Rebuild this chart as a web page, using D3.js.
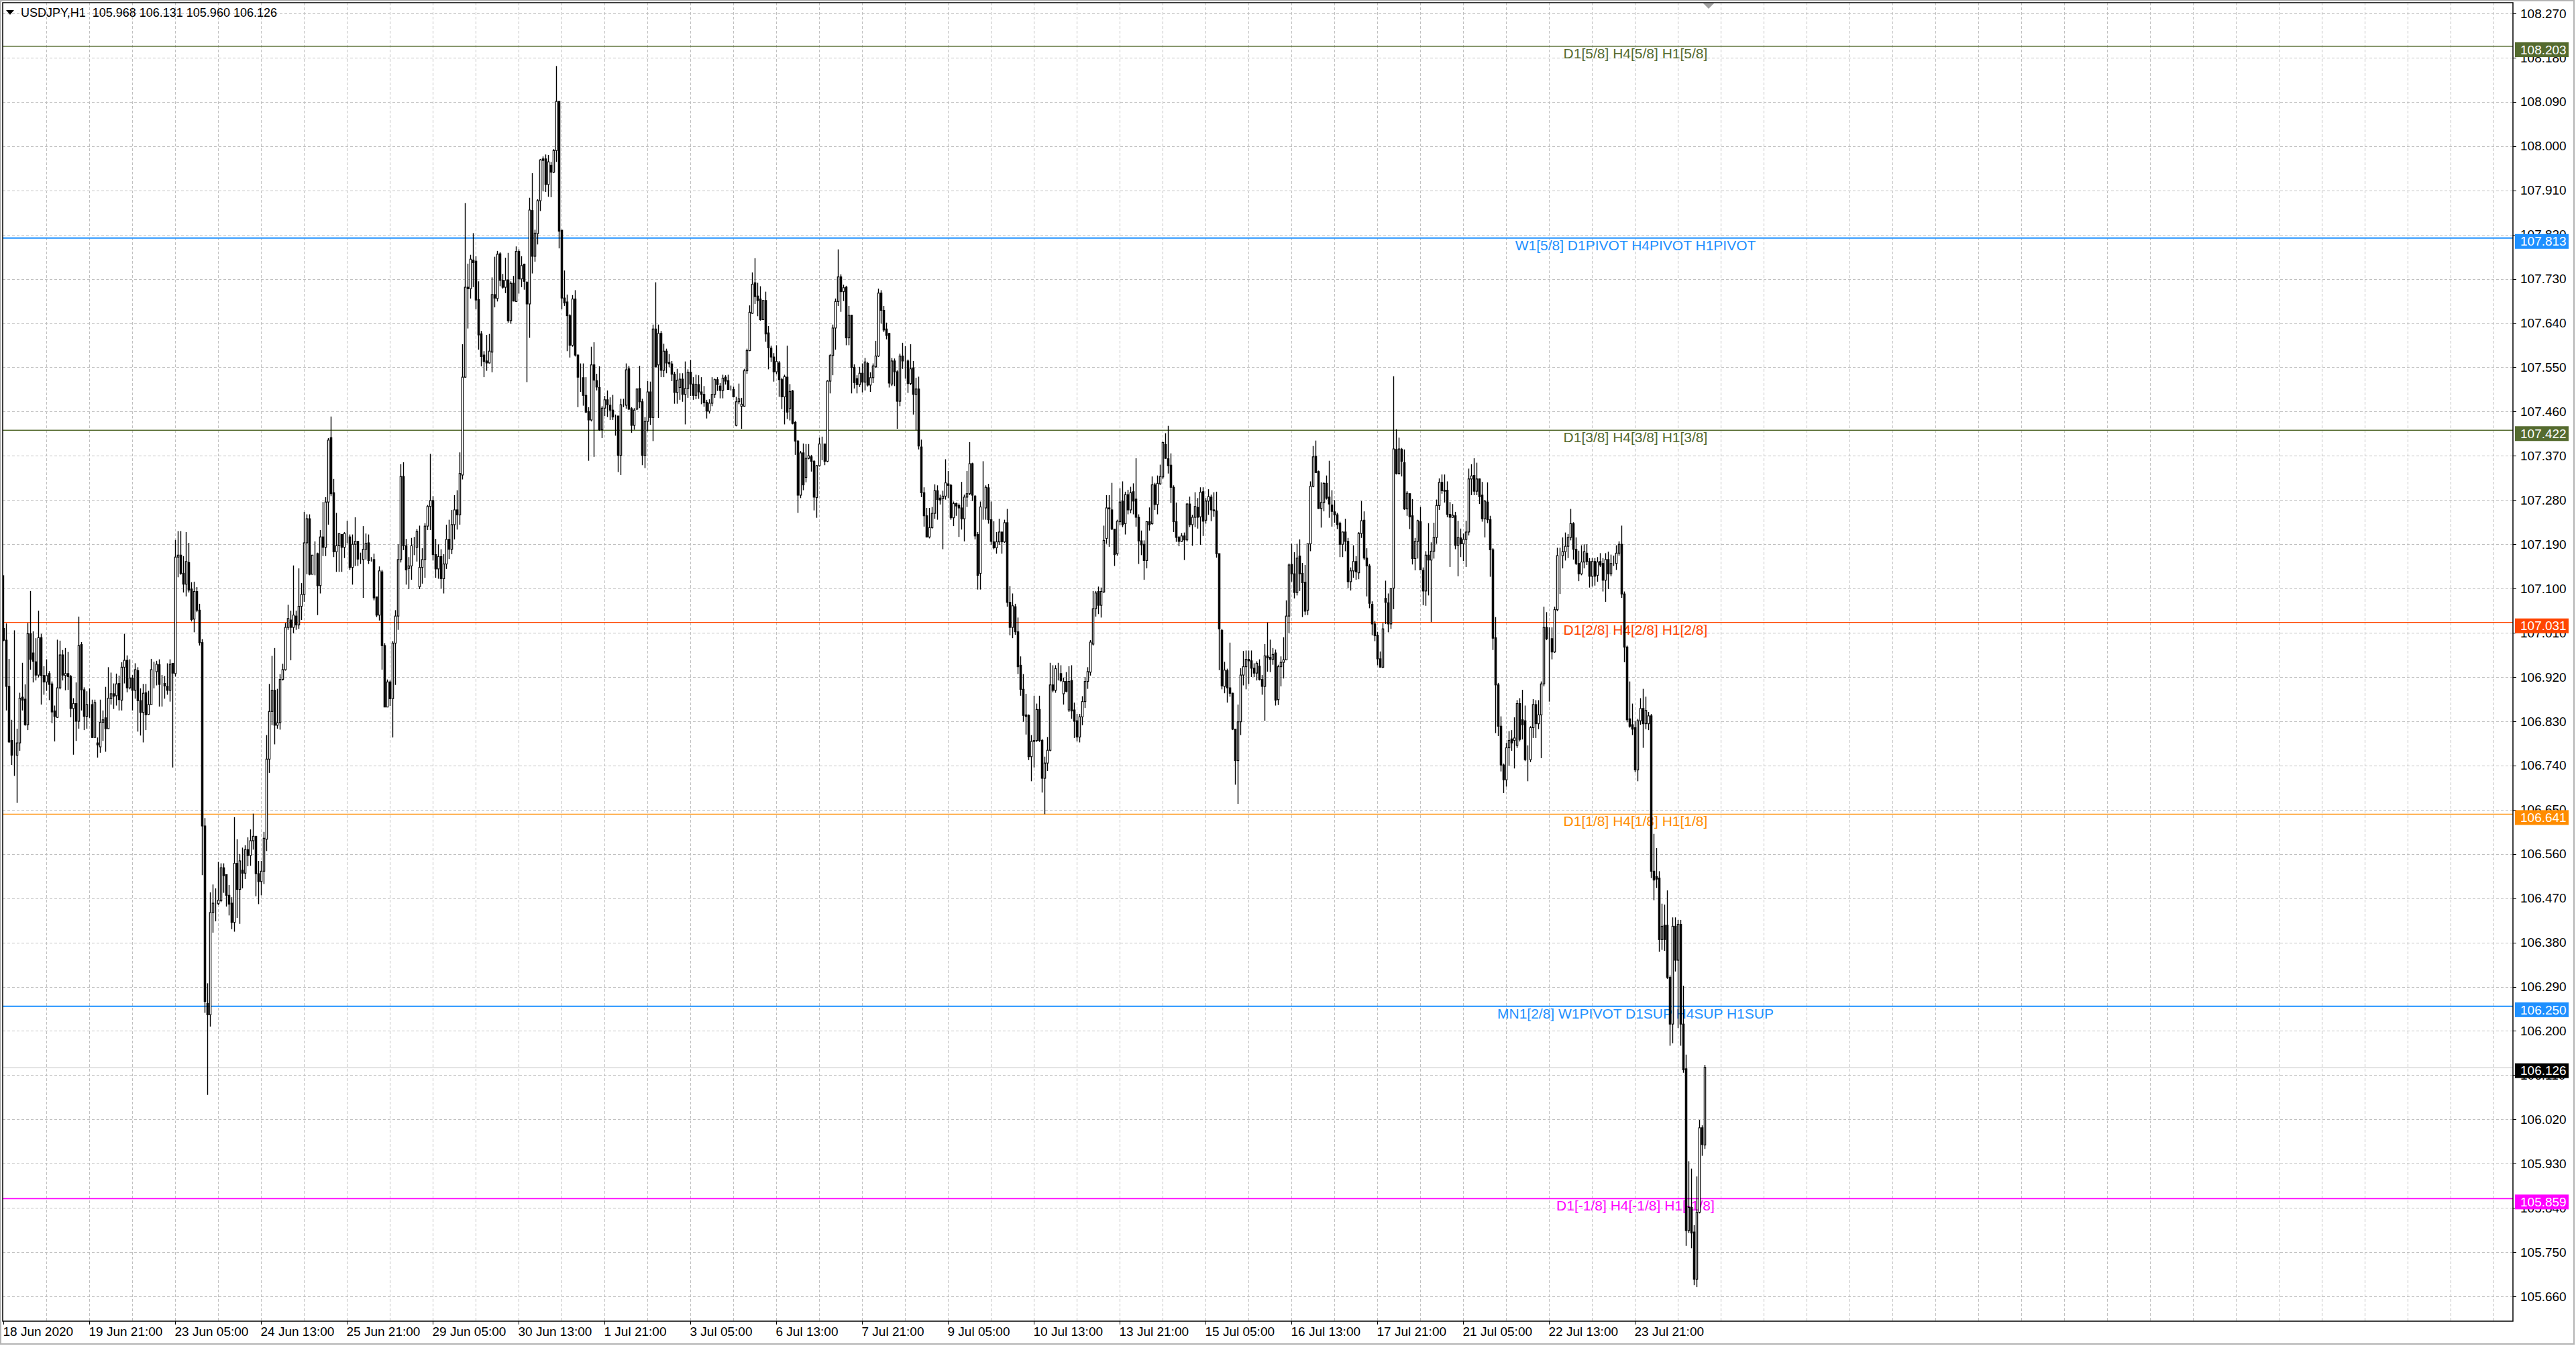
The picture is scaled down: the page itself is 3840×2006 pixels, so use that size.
<!DOCTYPE html>
<html>
<head>
<meta charset="utf-8">
<title>USDJPY,H1</title>
<script src="https://cdn.jsdelivr.net/npm/d3@7"></script>
<style>
  html, body { margin: 0; padding: 0; background: #fff; }
  svg { display: block; }
</style>
</head>
<body>
<svg id="chart"></svg>
<script>
// USDJPY H1 candles with Murrey-style level lines, MT4 look

// ── Data ──
const symbol = "USDJPY,H1";

const opens = [
  107.019,106.995,106.901,106.791,106.761,106.761,106.786,106.879,106.875,106.823,
  107.008,106.969,106.951,106.924,107.000,106.923,106.910,106.927,106.906,106.851,
  106.838,106.898,106.965,106.923,106.927,106.921,106.856,106.866,106.830,106.986,
  106.894,106.840,106.866,106.864,106.797,106.786,106.778,106.828,106.837,106.815,
  106.876,106.886,106.882,106.907,106.873,106.940,106.954,106.898,106.918,106.893,
  106.933,106.872,106.848,106.888,106.844,106.864,106.935,106.931,106.945,106.906,
  106.907,106.901,106.893,106.948,106.927,107.164,107.168,107.131,107.109,107.153,
  107.099,107.038,107.094,107.056,106.990,106.617,106.256,106.233,106.441,106.459,
  106.459,106.465,106.532,106.518,106.476,106.460,106.421,106.541,106.488,106.527,
  106.521,106.569,106.557,106.587,106.596,106.520,106.504,106.525,106.590,106.753,
  106.850,106.893,106.822,106.827,106.915,106.935,107.021,107.036,107.021,107.044,
  107.026,107.064,107.088,107.193,107.242,107.129,107.170,107.171,107.106,107.205,
  107.184,107.276,107.407,107.295,107.175,107.187,107.210,107.184,107.210,107.205,
  107.143,107.190,107.196,107.159,107.159,107.180,107.193,107.159,107.159,107.083,
  107.046,107.134,106.984,106.859,106.910,106.876,106.989,107.044,107.159,107.328,
  107.187,107.141,107.146,107.184,107.184,107.104,107.143,107.159,107.227,107.267,
  107.279,107.169,107.140,107.165,107.120,107.150,107.200,107.180,107.230,107.260,
  107.250,107.331,107.530,107.713,107.710,107.768,107.766,107.688,107.618,107.575,
  107.563,107.559,107.581,107.698,107.690,107.781,107.727,107.713,107.728,107.645,
  107.721,107.684,107.786,107.730,107.760,107.723,107.679,107.869,107.776,107.822,
  107.889,107.974,107.974,107.922,107.961,107.947,107.991,108.091,107.829,107.691,
  107.683,107.655,107.595,107.689,107.575,107.529,107.529,107.493,107.460,107.443,
  107.555,107.523,107.509,107.423,107.467,107.484,107.473,107.463,107.451,107.451,
  107.371,107.473,107.473,107.547,107.466,107.432,107.465,107.507,107.480,107.371,
  107.440,107.500,107.448,107.628,107.555,107.619,107.544,107.583,107.560,107.557,
  107.536,107.499,107.509,107.526,107.495,107.507,107.540,107.516,107.493,107.515,
  107.500,107.495,107.479,107.461,107.477,107.495,107.525,107.512,107.503,107.530,
  107.523,107.506,107.505,107.432,107.480,107.471,107.471,107.543,107.584,107.660,
  107.722,107.695,107.689,107.647,107.686,107.620,107.589,107.571,107.541,107.559,
  107.525,107.490,107.530,107.466,107.502,107.438,107.400,107.290,107.376,107.326,
  107.365,107.368,107.359,107.285,107.350,107.394,107.394,107.359,107.522,107.574,
  107.630,107.684,107.734,107.704,107.713,107.610,107.656,107.550,107.527,107.515,
  107.538,107.520,107.558,107.514,107.529,107.551,107.573,107.701,107.666,107.628,
  107.619,107.516,107.563,107.541,107.481,107.573,107.563,107.563,107.517,107.549,
  107.495,107.506,107.388,107.295,107.248,107.205,107.224,107.253,107.299,107.284,
  107.283,107.288,107.313,107.310,107.244,107.273,107.269,107.264,107.242,107.286,
  107.293,107.354,107.288,107.210,107.131,107.266,107.264,107.305,107.240,107.195,
  107.183,107.195,107.215,107.195,107.234,107.072,107.021,107.063,107.012,106.944,
  106.895,106.843,106.842,106.758,106.791,106.791,106.854,106.791,106.714,106.745,
  106.771,106.904,106.893,106.937,106.927,106.886,106.911,106.853,106.913,106.853,
  106.831,106.798,106.839,106.870,106.911,106.930,106.987,107.059,107.094,107.066,
  107.093,107.202,107.264,107.260,107.221,107.171,107.236,107.278,107.232,107.291,
  107.260,107.297,107.282,107.245,107.197,107.190,107.157,107.236,107.232,107.311,
  107.271,107.313,107.327,107.393,107.364,107.351,107.306,107.236,107.204,107.196,
  107.207,107.199,107.272,107.230,107.245,107.265,107.246,107.297,107.239,107.278,
  107.286,107.260,107.258,107.171,107.015,106.901,106.933,106.898,106.887,106.814,
  106.750,106.829,106.924,106.941,106.956,106.953,106.938,106.928,106.942,106.915,
  106.901,106.963,106.960,106.956,106.969,106.874,106.941,106.950,106.955,107.044,
  107.149,107.130,107.092,107.166,107.131,107.113,107.056,107.191,107.308,107.369,
  107.338,107.263,107.275,107.314,107.286,107.270,107.256,107.250,107.233,107.190,
  107.215,107.196,107.114,107.136,107.155,107.132,107.212,107.239,107.162,107.146,
  107.068,107.028,107.005,106.957,106.940,107.080,107.071,107.028,107.101,107.383,
  107.334,107.383,107.356,107.262,107.293,107.248,107.161,107.196,107.236,107.137,
  107.095,107.168,107.158,107.176,107.204,107.269,107.316,107.300,107.300,107.251,
  107.245,107.248,107.188,107.203,107.191,107.200,107.215,107.323,107.330,107.298,
  107.323,107.290,107.242,107.276,107.240,107.179,107.000,106.904,106.820,106.741,
  106.711,106.776,106.794,106.791,106.781,106.866,106.833,106.831,106.752,106.752,
  106.817,106.864,106.825,106.843,106.906,107.021,106.998,106.998,106.971,107.057,
  107.167,107.167,107.175,107.186,107.204,107.232,107.180,107.151,107.130,107.154,
  107.172,107.155,107.125,107.155,107.127,107.155,107.151,107.117,107.159,107.130,
  107.151,107.151,107.172,107.190,107.089,106.981,106.835,106.823,106.817,106.731,
  106.831,106.856,106.825,106.825,106.841,106.525,106.514,106.511,106.386,106.415,
  106.415,106.309,106.214,106.413,106.344,106.417,106.214,106.123,105.794,105.841,
  105.791,105.695,105.831,106.003,105.968
];

const highs = [
  107.127,107.029,106.957,106.833,107.015,106.815,106.888,106.949,106.905,107.030,
  107.095,107.013,106.999,107.055,107.008,106.942,106.956,106.932,106.911,106.862,
  106.996,106.994,106.975,106.979,106.971,106.924,106.877,106.909,107.043,106.991,
  106.899,106.891,106.897,106.874,106.874,106.797,106.874,106.852,106.900,106.940,
  106.929,106.907,106.927,106.923,106.950,107.008,106.964,106.956,106.924,106.948,
  106.940,106.897,106.906,106.906,106.892,106.957,106.951,106.953,106.956,106.924,
  106.922,106.948,106.956,106.948,107.199,107.217,107.217,107.166,107.215,107.193,
  107.113,107.114,107.103,107.069,106.997,106.633,106.297,106.482,106.498,106.490,
  106.544,106.541,106.541,106.518,106.497,106.472,106.635,106.590,106.560,106.573,
  106.578,106.594,106.610,106.642,106.596,106.546,106.546,106.605,106.802,106.906,
  106.963,106.979,106.896,106.926,106.947,107.030,107.067,107.055,107.147,107.055,
  107.141,107.111,107.256,107.251,107.251,107.168,107.196,107.173,107.219,107.276,
  107.286,107.406,107.450,107.323,107.254,107.212,107.210,107.215,107.238,107.210,
  107.210,107.245,107.196,107.173,107.227,107.212,107.210,107.164,107.171,107.083,
  107.145,107.138,106.989,106.915,106.913,106.993,107.056,107.190,107.353,107.357,
  107.201,107.164,107.203,107.205,107.221,107.228,107.182,107.233,107.270,107.374,
  107.288,107.201,107.190,107.180,107.170,107.230,107.240,107.260,107.290,107.300,
  107.377,107.597,107.884,107.761,107.779,107.823,107.776,107.725,107.624,107.583,
  107.616,107.618,107.733,107.775,107.787,107.784,107.740,107.773,107.783,107.725,
  107.736,107.796,107.790,107.776,107.761,107.725,107.895,107.945,107.830,107.892,
  107.974,107.979,107.983,107.982,107.968,107.994,108.163,108.091,107.829,107.747,
  107.698,107.658,107.697,107.707,107.576,107.558,107.558,107.530,107.469,107.592,
  107.601,107.537,107.552,107.471,107.492,107.503,107.489,107.494,107.454,107.451,
  107.486,107.486,107.558,107.553,107.469,107.467,107.507,107.553,107.486,107.449,
  107.522,107.521,107.637,107.723,107.637,107.624,107.598,107.588,107.577,107.563,
  107.541,107.547,107.538,107.538,107.562,107.546,107.565,107.530,107.535,107.534,
  107.530,107.512,107.484,107.485,107.530,107.527,107.530,107.518,107.535,107.534,
  107.535,107.513,107.511,107.490,107.517,107.488,107.547,107.588,107.676,107.743,
  107.772,107.722,107.715,107.686,107.704,107.634,107.594,107.579,107.595,107.563,
  107.529,107.535,107.594,107.516,107.504,107.441,107.402,107.380,107.395,107.394,
  107.394,107.372,107.361,107.351,107.407,107.409,107.394,107.524,107.577,107.637,
  107.690,107.790,107.739,107.718,107.716,107.675,107.657,107.556,107.534,107.551,
  107.558,107.569,107.561,107.540,107.558,107.604,107.710,107.707,107.675,107.641,
  107.620,107.569,107.568,107.544,107.578,107.600,107.593,107.566,107.597,107.563,
  107.529,107.531,107.403,107.306,107.264,107.264,107.266,107.312,107.310,107.291,
  107.299,107.363,107.339,107.313,107.277,107.275,107.273,107.317,107.291,107.339,
  107.398,107.356,107.290,107.215,107.277,107.359,107.310,107.313,107.277,107.237,
  107.215,107.242,107.215,107.240,107.262,107.105,107.090,107.069,107.041,106.962,
  106.926,106.886,106.844,106.802,106.882,106.866,106.882,106.794,106.758,106.798,
  106.949,106.944,106.944,106.949,106.944,106.919,106.930,106.942,106.944,106.868,
  106.845,106.845,106.881,106.920,106.940,106.995,107.095,107.095,107.104,107.102,
  107.228,107.290,107.290,107.315,107.221,107.240,107.304,107.318,107.297,107.301,
  107.307,107.314,107.365,107.251,107.218,107.198,107.237,107.265,107.328,107.315,
  107.330,107.352,107.399,107.416,107.431,107.375,107.310,107.275,107.207,107.213,
  107.214,107.274,107.287,107.250,107.296,107.284,107.306,107.306,107.284,107.302,
  107.291,107.296,107.297,107.171,107.018,106.951,106.937,106.990,106.888,106.814,
  106.864,106.938,106.973,106.974,106.974,106.974,106.948,106.952,106.956,106.924,
  106.987,107.031,106.996,106.979,106.976,106.945,106.962,107.001,107.076,107.151,
  107.191,107.174,107.191,107.200,107.152,107.148,107.191,107.318,107.390,107.401,
  107.340,107.316,107.316,107.330,107.360,107.300,107.280,107.254,107.236,107.216,
  107.242,107.203,107.143,107.188,107.166,107.215,107.278,107.257,107.182,107.150,
  107.074,107.034,107.012,106.972,107.030,107.116,107.090,107.101,107.532,107.424,
  107.407,107.386,107.383,107.298,107.293,107.282,107.203,107.240,107.266,107.143,
  107.176,107.233,107.194,107.234,107.281,107.324,107.332,107.332,107.318,107.276,
  107.272,107.256,107.238,107.222,107.212,107.238,107.344,107.353,107.365,107.356,
  107.324,107.317,107.280,107.316,107.248,107.182,107.042,106.908,106.840,106.744,
  106.786,106.810,106.812,106.838,106.873,106.877,106.894,106.862,106.781,106.820,
  106.875,106.873,106.873,106.911,107.063,107.052,107.021,107.021,107.063,107.183,
  107.183,107.204,107.214,107.211,107.262,107.235,107.204,107.177,107.188,107.190,
  107.190,107.162,107.162,107.162,107.164,107.172,107.162,107.172,107.175,107.169,
  107.167,107.188,107.196,107.228,107.094,106.984,106.911,106.866,106.831,106.835,
  106.877,106.896,106.880,106.849,106.845,106.601,106.572,106.525,106.459,106.457,
  106.486,106.313,106.431,106.431,106.426,106.426,106.292,106.152,105.935,105.920,
  105.805,105.904,106.019,106.008,106.131
];

const lows = [
  106.993,106.852,106.786,106.741,106.719,106.664,106.770,106.852,106.821,106.812,
  106.935,106.909,106.913,106.919,106.864,106.884,106.892,106.873,106.826,106.789,
  106.837,106.895,106.913,106.893,106.894,106.838,106.762,106.790,106.815,106.852,
  106.812,106.815,106.837,106.796,106.797,106.756,106.766,106.790,106.768,106.815,
  106.864,106.855,106.862,106.852,106.852,106.907,106.889,106.895,106.852,106.876,
  106.809,106.801,106.787,106.812,106.843,106.864,106.897,106.903,106.860,106.860,
  106.876,106.884,106.870,106.736,106.921,107.123,107.128,107.092,107.084,107.092,
  107.033,107.011,107.052,106.984,106.517,106.237,106.070,106.209,106.400,106.423,
  106.456,106.462,106.481,106.453,106.435,106.407,106.402,106.430,106.418,106.490,
  106.509,106.535,106.536,106.569,106.474,106.458,106.476,106.499,106.566,106.725,
  106.822,106.783,106.815,106.813,106.913,106.933,107.016,106.954,107.009,107.016,
  107.018,107.036,107.073,107.129,107.127,107.129,107.127,107.046,107.090,107.166,
  107.166,107.230,107.288,107.164,107.134,107.134,107.134,107.162,107.192,107.138,
  107.108,107.146,107.146,107.150,107.081,107.159,107.150,107.155,107.076,107.042,
  107.035,106.935,106.859,106.859,106.861,106.797,106.904,107.016,107.153,107.178,
  107.108,107.099,107.118,107.168,107.155,107.099,107.110,107.122,107.219,107.219,
  107.157,107.122,107.120,107.100,107.090,107.140,107.160,107.170,107.200,107.220,
  107.230,107.322,107.529,107.629,107.690,107.713,107.668,107.586,107.552,107.530,
  107.543,107.558,107.540,107.672,107.684,107.715,107.710,107.701,107.641,107.639,
  107.684,107.683,107.700,107.713,107.708,107.520,107.610,107.741,107.765,107.800,
  107.868,107.908,107.907,107.897,107.896,107.945,107.968,107.792,107.668,107.675,
  107.583,107.570,107.592,107.572,107.469,107.500,107.472,107.457,107.360,107.440,
  107.368,107.503,107.421,107.406,107.451,107.449,107.443,107.443,107.411,107.337,
  107.331,107.469,107.466,107.463,107.417,107.423,107.463,107.467,107.351,107.345,
  107.420,107.433,107.400,107.550,107.447,107.530,107.530,107.538,107.550,107.522,
  107.476,107.476,107.484,107.480,107.434,107.488,107.492,107.484,107.485,107.486,
  107.475,107.470,107.446,107.456,107.471,107.488,107.502,107.487,107.487,107.515,
  107.505,107.503,107.489,107.430,107.475,107.425,107.470,107.537,107.583,107.659,
  107.679,107.654,107.645,107.647,107.602,107.546,107.561,107.521,107.536,107.490,
  107.465,107.434,107.445,107.442,107.434,107.372,107.254,107.284,107.300,107.316,
  107.363,107.338,107.259,107.244,107.348,107.361,107.351,107.357,107.497,107.534,
  107.586,107.675,107.663,107.685,107.595,107.595,107.497,107.507,107.497,107.510,
  107.499,107.503,107.511,107.500,107.518,107.549,107.571,107.639,107.622,107.607,
  107.509,107.512,107.512,107.425,107.471,107.547,107.527,107.498,107.514,107.454,
  107.422,107.383,107.286,107.226,107.204,107.202,107.222,107.242,107.240,107.271,
  107.180,107.281,107.284,107.240,107.227,107.248,107.205,107.220,107.196,107.266,
  107.290,107.278,107.200,107.098,107.098,107.240,107.240,107.232,107.189,107.180,
  107.171,107.189,107.171,107.193,107.063,107.005,106.999,107.006,106.926,106.882,
  106.829,106.803,106.751,106.708,106.736,106.788,106.788,106.685,106.641,106.729,
  106.769,106.889,106.888,106.913,106.910,106.864,106.889,106.849,106.835,106.796,
  106.789,106.787,106.822,106.857,106.896,106.923,106.984,107.043,107.048,107.041,
  107.091,107.191,107.185,107.219,107.146,107.167,107.229,107.225,107.210,107.251,
  107.253,107.251,107.226,107.150,107.168,107.118,107.141,107.218,107.230,107.260,
  107.251,107.311,107.323,107.364,107.334,107.274,107.215,107.195,107.186,107.195,
  107.158,107.196,107.225,107.187,107.225,107.222,107.189,107.207,107.232,107.250,
  107.237,107.246,107.163,106.934,106.895,106.887,106.868,106.880,106.812,106.701,
  106.662,106.802,106.903,106.895,106.906,106.920,106.920,106.913,106.913,106.884,
  106.831,106.931,106.930,106.945,106.862,106.863,106.901,106.917,106.954,107.009,
  107.114,107.080,107.086,107.095,107.042,107.046,107.046,107.176,107.306,107.335,
  107.262,107.224,107.257,107.281,107.244,107.226,107.234,107.221,107.164,107.164,
  107.176,107.101,107.096,107.122,107.118,107.119,107.203,107.158,107.084,107.060,
  107.005,106.993,106.944,106.940,106.938,107.028,107.011,107.018,107.058,107.332,
  107.332,107.328,107.260,107.248,107.221,107.149,107.137,107.161,107.137,107.066,
  107.065,107.086,107.032,107.161,107.191,107.260,107.293,107.275,107.245,107.144,
  107.244,107.180,107.125,107.164,107.156,107.144,107.208,107.290,107.290,107.290,
  107.272,107.236,107.204,107.233,107.124,106.975,106.806,106.800,106.728,106.684,
  106.697,106.739,106.770,106.734,106.776,106.789,106.793,106.749,106.708,106.747,
  106.796,106.796,106.814,106.755,106.901,106.995,106.870,106.956,106.969,107.054,
  107.089,107.141,107.157,107.162,107.198,107.159,107.148,107.115,107.127,107.141,
  107.148,107.102,107.104,107.106,107.114,107.144,107.094,107.073,107.099,107.125,
  107.146,107.138,107.167,107.081,106.950,106.828,106.817,106.802,106.726,106.708,
  106.823,106.776,106.814,106.812,106.511,106.466,106.491,106.361,106.365,106.363,
  106.306,106.170,106.175,106.321,106.206,106.170,106.115,105.763,105.789,105.758,
  105.683,105.679,105.829,105.946,105.960
];

const closes = [
  106.995,106.901,106.788,106.761,106.761,106.786,106.877,106.873,106.823,107.008,
  106.956,106.952,106.924,107.000,106.923,106.910,106.923,106.905,106.849,106.840,
  106.898,106.965,106.924,106.927,106.921,106.856,106.866,106.830,106.984,106.894,
  106.840,106.864,106.866,106.797,106.868,106.782,106.828,106.833,106.815,106.877,
  106.886,106.881,106.906,106.874,106.940,106.954,106.898,106.918,106.893,106.935,
  106.872,106.848,106.887,106.843,106.864,106.935,106.935,106.946,106.905,106.906,
  106.902,106.893,106.946,106.928,107.164,107.168,107.131,107.109,107.155,107.097,
  107.037,107.094,107.056,106.990,106.617,106.260,106.233,106.441,106.460,106.459,
  106.466,106.532,106.516,106.476,106.458,106.421,106.541,106.488,106.546,106.521,
  106.569,106.557,106.587,106.596,106.520,106.504,106.525,106.592,106.753,106.850,
  106.893,106.822,106.827,106.915,106.935,107.021,107.039,107.021,107.046,107.026,
  107.064,107.088,107.193,107.242,107.129,107.168,107.170,107.106,107.205,107.184,
  107.276,107.402,107.293,107.175,107.187,107.212,107.184,107.212,107.210,107.143,
  107.190,107.196,107.160,107.159,107.180,107.192,107.157,107.159,107.081,107.046,
  107.136,106.984,106.859,106.910,106.876,106.989,107.044,107.159,107.328,107.187,
  107.138,107.146,107.187,107.184,107.216,107.143,107.159,107.227,107.267,107.279,
  107.169,107.140,107.165,107.120,107.150,107.200,107.180,107.230,107.260,107.250,
  107.334,107.530,107.713,107.710,107.770,107.763,107.687,107.616,107.572,107.562,
  107.559,107.583,107.698,107.691,107.780,107.727,107.713,107.727,107.645,107.721,
  107.685,107.786,107.730,107.757,107.725,107.679,107.870,107.776,107.823,107.889,
  107.972,107.971,107.922,107.968,107.947,107.991,108.091,107.827,107.691,107.681,
  107.655,107.595,107.689,107.575,107.530,107.529,107.493,107.459,107.443,107.555,
  107.524,107.510,107.423,107.467,107.484,107.474,107.463,107.449,107.451,107.371,
  107.474,107.473,107.545,107.465,107.432,107.463,107.506,107.480,107.371,107.440,
  107.500,107.448,107.628,107.551,107.619,107.544,107.583,107.559,107.557,107.536,
  107.499,107.524,107.526,107.495,107.507,107.540,107.516,107.493,107.515,107.500,
  107.495,107.478,107.461,107.477,107.495,107.525,107.515,107.503,107.528,107.522,
  107.505,107.506,107.490,107.480,107.486,107.475,107.543,107.584,107.662,107.719,
  107.694,107.686,107.647,107.686,107.618,107.590,107.571,107.541,107.562,107.525,
  107.490,107.531,107.459,107.501,107.436,107.400,107.290,107.376,107.311,107.365,
  107.370,107.359,107.286,107.350,107.394,107.394,107.359,107.522,107.574,107.630,
  107.684,107.734,107.704,107.712,107.610,107.656,107.550,107.519,107.515,107.538,
  107.520,107.561,107.514,107.529,107.553,107.573,107.701,107.666,107.626,107.615,
  107.518,107.563,107.541,107.481,107.573,107.563,107.563,107.517,107.547,107.495,
  107.506,107.390,107.295,107.248,107.205,107.224,107.253,107.299,107.281,107.280,
  107.288,107.315,107.310,107.244,107.273,107.268,107.264,107.242,107.286,107.293,
  107.354,107.290,107.207,107.127,107.266,107.266,107.306,107.240,107.196,107.183,
  107.195,107.215,107.195,107.234,107.072,107.021,107.065,107.012,106.941,106.895,
  106.842,106.840,106.758,106.789,106.789,106.854,106.791,106.714,106.745,106.771,
  106.904,106.893,106.937,106.937,106.913,106.911,106.891,106.911,106.851,106.830,
  106.798,106.839,106.870,106.911,106.931,106.991,107.059,107.091,107.066,107.094,
  107.198,107.264,107.262,107.221,107.169,107.237,107.276,107.230,107.291,107.260,
  107.295,107.278,107.245,107.197,107.189,107.157,107.236,107.230,107.311,107.271,
  107.314,107.328,107.397,107.365,107.350,107.306,107.236,107.204,107.196,107.207,
  107.199,107.272,107.230,107.245,107.267,107.245,107.296,107.237,107.278,107.287,
  107.260,107.258,107.171,107.018,106.902,106.934,106.898,106.887,106.814,106.750,
  106.829,106.924,106.941,106.956,106.953,106.938,106.928,106.948,106.915,106.901,
  106.963,106.959,106.956,106.966,106.873,106.941,106.950,106.955,107.044,107.148,
  107.130,107.092,107.162,107.130,107.112,107.054,107.191,107.308,107.368,107.336,
  107.263,107.275,107.314,107.284,107.272,107.257,107.250,107.230,107.190,107.215,
  107.196,107.114,107.136,107.155,107.134,107.212,107.238,107.162,107.146,107.070,
  107.028,107.004,106.957,106.940,107.018,107.072,107.028,107.100,107.384,107.334,
  107.384,107.359,107.262,107.294,107.246,107.161,107.196,107.238,107.138,107.095,
  107.168,107.158,107.176,107.204,107.269,107.316,107.299,107.298,107.251,107.245,
  107.249,107.188,107.204,107.191,107.200,107.215,107.323,107.329,107.298,107.323,
  107.287,107.242,107.278,107.240,107.179,106.999,106.904,106.820,106.741,106.711,
  106.776,106.791,106.786,106.796,106.866,106.793,106.823,106.752,106.752,106.817,
  106.864,106.825,106.843,106.906,107.021,106.998,106.998,106.971,107.057,107.167,
  107.167,107.175,107.186,107.204,107.232,107.180,107.151,107.130,107.154,107.175,
  107.155,107.125,107.155,107.125,107.154,107.148,107.117,107.159,107.130,107.151,
  107.151,107.172,107.190,107.089,106.981,106.833,106.820,106.814,106.731,106.831,
  106.856,106.825,106.852,106.841,106.525,106.507,106.509,106.386,106.413,106.386,
  106.309,106.214,106.413,106.344,106.417,106.214,106.121,105.794,105.841,105.789,
  105.695,105.831,106.003,105.969,106.126
];

// time labels, one every 32 hourly bars starting at bar 0
const timeLabels = [
  "18 Jun 2020", "19 Jun 21:00", "23 Jun 05:00", "24 Jun 13:00", "25 Jun 21:00",
  "29 Jun 05:00", "30 Jun 13:00", "1 Jul 21:00", "3 Jul 05:00", "6 Jul 13:00",
  "7 Jul 21:00", "9 Jul 05:00", "10 Jul 13:00", "13 Jul 21:00", "15 Jul 05:00",
  "16 Jul 13:00", "17 Jul 21:00", "21 Jul 05:00", "22 Jul 13:00", "23 Jul 21:00"
];
const labelStep = 32;

const priceTicks = [
  108.270, 108.180, 108.090, 108.000, 107.910, 107.820, 107.730, 107.640, 107.550, 107.460,
  107.370, 107.280, 107.190, 107.100, 107.010, 106.920, 106.830, 106.740, 106.650, 106.560,
  106.470, 106.380, 106.290, 106.200, 106.110, 106.020, 105.930, 105.840, 105.750, 105.660
];

// level lines (price, label)
const levelPrices = [108.203, 107.813, 107.422, 107.031, 106.641, 106.250, 105.859];
const levelNames = [
  "D1[5/8] H4[5/8] H1[5/8]",
  "W1[5/8] D1PIVOT H4PIVOT H1PIVOT",
  "D1[3/8] H4[3/8] H1[3/8]",
  "D1[2/8] H4[2/8] H1[2/8]",
  "D1[1/8] H4[1/8] H1[1/8]",
  "MN1[2/8] W1PIVOT D1SUP H4SUP H1SUP",
  "D1[-1/8] H4[-1/8] H1[-1/8]"
];

// ── Styles ──
const levelColors = ["#556B2F", "#1E90FF", "#556B2F", "#FF4500", "#FF8C00", "#1E90FF", "#FF00FF"];
const levelWidths = [1.3, 2, 1.3, 1.3, 1.3, 2, 1.8];
const axisFont = "'Liberation Sans', Arial, sans-serif";

// ── Layout ──
const W = 3840, H = 2006;
const plot = { left: 4, right: 3746, top: 4, bottom: 1969 };
const nBars = closes.length;

const x = d3.scaleLinear().domain([0, 934]).range([5, 3741]);
const y = d3.scaleLinear().domain([105.660, 108.270]).range([1932.1, 20]);

const svg = d3.select("#chart").attr("width", W).attr("height", H)
  .style("background", "#fff");

svg.append("defs").append("clipPath").attr("id", "plotClip")
  .append("rect")
  .attr("x", plot.left).attr("y", plot.top)
  .attr("width", plot.right - plot.left).attr("height", plot.bottom - plot.top);

// window frame
svg.append("rect")
  .attr("x", 1).attr("y", 1).attr("width", 3836).attr("height", 2002)
  .attr("fill", "none").attr("stroke", "#b4b4b4").attr("stroke-width", 2);

const g = svg.append("g").attr("clip-path", "url(#plotClip)");

// ── Grid ──
g.append("g").selectAll("line")
  .data(priceTicks)
  .join("line")
  .attr("x1", plot.left).attr("x2", plot.right)
  .attr("y1", d => Math.round(y(d)) + 0.5).attr("y2", d => Math.round(y(d)) + 0.5)
  .attr("stroke", "#c0c0c0").attr("stroke-width", 1)
  .attr("stroke-dasharray", "4,3").attr("shape-rendering", "crispEdges");

g.append("g").selectAll("line")
  .data(d3.range(16, 935, 16))
  .join("line")
  .attr("x1", d => x(d) + 0.5).attr("x2", d => x(d) + 0.5)
  .attr("y1", plot.top).attr("y2", plot.bottom)
  .attr("stroke", "#c0c0c0").attr("stroke-width", 1)
  .attr("stroke-dasharray", "4,3").attr("shape-rendering", "crispEdges");

// ── Level lines + labels ──
const lastClose = closes[nBars - 1];

g.append("line")
  .attr("x1", plot.left).attr("x2", plot.right)
  .attr("y1", Math.round(y(lastClose)) + 0.5).attr("y2", Math.round(y(lastClose)) + 0.5)
  .attr("stroke", "#c0c0c0").attr("stroke-width", 1).attr("shape-rendering", "crispEdges");

const levels = levelPrices.map((p, i) => ({ p, name: levelNames[i], color: levelColors[i], w: levelWidths[i] }));

g.append("g").selectAll("line")
  .data(levels)
  .join("line")
  .attr("x1", plot.left).attr("x2", plot.right)
  .attr("y1", d => y(d.p)).attr("y2", d => y(d.p))
  .attr("stroke", d => d.color).attr("stroke-width", d => d.w);

const labelX = x(608.25);
g.append("g").selectAll("text")
  .data(levels)
  .join("text")
  .attr("x", labelX).attr("y", d => y(d.p) + 18)
  .attr("text-anchor", "middle")
  .attr("fill", d => d.color)
  .style("font-family", "'Liberation Sans', Arial, sans-serif")
  .style("font-size", "21px")
  .text(d => d.name);

// ── Candles ──
const bars = d3.range(nBars).map(i => ({
  i, o: opens[i], h: highs[i], l: lows[i], c: closes[i]
}));

g.append("g").selectAll("line")
  .data(bars)
  .join("line")
  .attr("x1", d => x(d.i) + 0.5).attr("x2", d => x(d.i) + 0.5)
  .attr("y1", d => y(d.h)).attr("y2", d => y(d.l))
  .attr("stroke", "#000").attr("stroke-width", 1.4);

g.append("g").selectAll("rect")
  .data(bars)
  .join("rect")
  .attr("x", d => x(d.i) - 0.7)
  .attr("width", 2.4)
  .attr("y", d => y(Math.max(d.o, d.c)))
  .attr("height", d => Math.abs(y(d.o) - y(d.c)))
  .attr("fill", d => d.c >= d.o ? "#fff" : "#000")
  .attr("stroke", "#000").attr("stroke-width", 1.15);

// chart shift marker
svg.append("path")
  .attr("d", `M${x(635.5) - 8},${plot.top + 1}L${x(635.5) + 8},${plot.top + 1}L${x(635.5)},${plot.top + 9}Z`)
  .attr("fill", "#a0a0a0");

// ── Plot border ──
svg.append("rect")
  .attr("x", plot.left).attr("y", plot.top)
  .attr("width", plot.right - plot.left).attr("height", plot.bottom - plot.top)
  .attr("fill", "none").attr("stroke", "#000").attr("stroke-width", 1.5);

// ── Axes ──
const yAxis = svg.append("g")
  .attr("transform", `translate(${plot.right},0)`)
  .call(d3.axisRight(y).tickValues(priceTicks).tickFormat(d3.format(".3f")).tickSize(5).tickPadding(6));

const xAxis = svg.append("g")
  .attr("transform", `translate(0,${plot.bottom})`)
  .call(d3.axisBottom(x)
    .tickValues(timeLabels.map((_, k) => k * labelStep))
    .tickFormat((d, k) => timeLabels[k])
    .tickSize(5).tickPadding(5));

[yAxis, xAxis].forEach(a => {
  a.select(".domain").remove();
  a.attr("font-family", null).attr("font-size", null);
  a.selectAll("line").attr("stroke", "#000").attr("shape-rendering", "crispEdges");
  a.selectAll("text")
    .attr("fill", "#000")
    .style("font-family", axisFont)
    .style("font-size", "19px");
});
xAxis.selectAll("text").attr("text-anchor", "start").attr("dx", "-1").attr("y", 9);

// ── Price tags on the right axis (sit a little below their line, as in MT4) ──
const tags = levels.map(d => ({ p: d.p, color: d.color }))
  .concat([{ p: lastClose, color: "#000" }]);

const tag = svg.append("g").selectAll("g")
  .data(tags)
  .join("g")
  .attr("transform", d => `translate(3749,${y(d.p) + 5})`);

tag.append("rect")
  .attr("x", 0).attr("y", -11).attr("width", 80).attr("height", 22)
  .attr("fill", d => d.color);

tag.append("text")
  .attr("x", 8).attr("dy", "0.35em")
  .attr("fill", "#fff")
  .style("font-family", axisFont)
  .style("font-size", "19px")
  .text(d => d3.format(".3f")(d.p));

// ── Title ──
const last = bars[nBars - 1];
svg.append("path").attr("d", "M9,15L21,15L15,22Z").attr("fill", "#000");
svg.append("text")
  .attr("x", 31).attr("y", 25)
  .attr("fill", "#000")
  .style("font-family", axisFont)
  .style("font-size", "18px")
  .style("white-space", "pre")
  .text(`${symbol}  ${[last.o, last.h, last.l, last.c].map(d3.format(".3f")).join(" ")}`);
</script>
</body>
</html>
